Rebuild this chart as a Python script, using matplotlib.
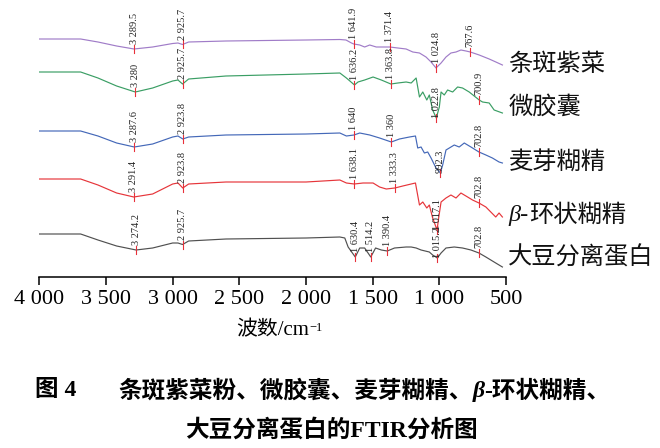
import numpy as np
import matplotlib
matplotlib.use("Agg")
import matplotlib.pyplot as plt

plt.rcParams['font.family'] = ['Liberation Serif', 'Noto Sans CJK SC']

# 透过率 (a.u., 已叠加偏移)
wn_zicai = [4000, 3690, 3560, 3420, 3289.5, 3150, 3000, 2960, 2925.7, 2880, 2600, 2000, 1746, 1700,
            1659, 1641.9, 1597, 1560, 1522, 1473, 1423, 1371.4, 1311, 1249, 1199, 1149, 1100, 1062,
            1024.8, 987, 950, 913, 875, 838, 800, 767.6, 701, 626, 576, 527]
t_zicai = [238, 238, 235, 231, 228, 230, 233.5, 234, 232.5, 235, 236, 237, 237.5, 237,
           234, 233, 232, 230, 232, 230, 230, 230, 229, 228, 225, 224, 220, 215,
           209, 214, 220, 224, 225, 227, 226, 225, 222, 218, 215, 212]

wn_wjn = [4000, 3690, 3560, 3420, 3280, 3150, 3000, 2960, 2925.7, 2880, 2600, 2000, 1746, 1697,
          1636.2, 1610, 1560, 1497, 1435, 1363.8, 1311, 1249, 1211, 1174, 1149, 1124, 1094, 1075,
          1050, 1022.8, 1000, 987, 963, 938, 900, 863, 826, 776, 700.9, 676, 626, 589, 527]
t_wjn = [205, 205, 199, 191, 185, 189, 196, 197, 193, 198, 201, 203, 204, 199,
         192, 195, 197, 200, 197, 193, 194, 195, 194, 199, 180, 185, 177, 182,
         167, 159, 170, 185, 182, 187, 185, 190, 189, 185, 177, 175, 174, 167, 164]

wn_myhj = [4000, 3690, 3560, 3420, 3287.6, 3150, 3000, 2960, 2923.8, 2880, 2600, 2000, 1746, 1697,
           1640, 1597, 1522, 1448, 1360, 1299, 1224, 1179, 1162, 1137, 1112, 1087, 1062, 1025,
           992.3, 975, 950, 925, 888, 851, 813, 763, 702.8, 651, 602, 552, 527]
t_myhj = [146, 146, 141, 134, 130, 133, 140, 141, 138, 140, 142, 143, 144, 141,
          142, 144, 142, 139, 135, 138, 140, 141, 129, 130, 124, 125, 119, 109,
          104, 112, 127, 129, 132, 130, 134, 130, 125, 122, 119, 115, 114]

wn_bhj = [4000, 3690, 3560, 3420, 3291.4, 3150, 3000, 2960, 2923.8, 2880, 2600, 2000, 1746, 1697,
          1638.1, 1572, 1497, 1448, 1398, 1333.3, 1274, 1211, 1179, 1149, 1124, 1094, 1075, 1050,
          1017.1, 1005, 987, 950, 913, 875, 838, 788, 751, 702.8, 651, 614, 577, 552, 527]
t_bhj = [98, 98, 92, 84, 80, 83, 93, 94, 89, 93, 95, 95, 97, 94,
         93, 94, 94, 90, 88, 89, 91, 93, 94, 72, 75, 69, 72, 59,
         47, 59, 75, 79, 82, 79, 84, 80, 77, 74, 70, 65, 60, 64, 60]

wn_dd = [4000, 3690, 3560, 3420, 3274.2, 3150, 3000, 2960, 2925.7, 2880, 2600, 2000, 1746, 1709,
         1684, 1630.4, 1597, 1560, 1514.2, 1478, 1435, 1390.4, 1336, 1249, 1211, 1174, 1137, 1075,
         1050, 1015.2, 987, 950, 888, 826, 763, 702.8, 651, 577, 527]
t_dd = [43, 43, 37, 31, 27, 29, 34, 34, 32.5, 36, 38, 39, 40, 39,
        30, 20, 29, 29, 20, 29, 27, 26, 29, 30, 30, 29, 27, 25,
        22, 19, 24, 29, 30, 29, 27, 24, 20, 14, 10]

# 特征峰
pk_zicai = [3289.5, 2925.7, 1641.9, 1371.4, 1024.8, 767.6]
pk_wjn = [3280, 2925.7, 1636.2, 1363.8, 1022.8, 700.9]
pk_myhj = [3287.6, 2923.8, 1640, 1360, 992.3, 702.8]
pk_bhj = [3291.4, 2923.8, 1638.1, 1333.3, 1017.1, 702.8]
pk_dd = [3274.2, 2925.7, 1630.4, 1514.2, 1390.4, 1015.2, 702.8]

# 名称: (斜体前缀, 正文)
names = [('', '条斑紫菜'), ('', '微胶囊'), ('', '麦芽糊精'), ('β-', '环状糊精'), ('', '大豆分离蛋白')]
colors = ['#a07cc8', '#3a9e64', '#4468b8', '#e6353a', '#505050']
name_dy = [0, 6, 0, 2, 9]   # 名称相对曲线末端的像素偏移

series = [(wn_zicai, t_zicai, pk_zicai), (wn_wjn, t_wjn, pk_wjn), (wn_myhj, t_myhj, pk_myhj),
          (wn_bhj, t_bhj, pk_bhj), (wn_dd, t_dd, pk_dd)]
in_dip = {1022.8, 992.3, 1017.1, 1015.2}


def fmt(v):
    s = ('%.1f' % v).rstrip('0').rstrip('.')
    ip = s.split('.')[0]
    if len(ip) == 4:
        s = ip[0] + ' ' + s[1:]
    return s


fig = plt.figure(figsize=(6.6, 4.48), dpi=100)
ax = fig.add_axes([39.3 / 660, 171 / 448, (506 - 39.3) / 660, 277 / 448])
ax.set_xlim(4000, 500)
ax.set_ylim(0, 277)

px = 0.72  # 1 px in points
for (wn, t, pk), c, (pre, nm), dy in zip(series, colors, names, name_dy):
    wn = np.array(wn)
    t = np.array(t)
    ax.plot(wn, t, color=c, lw=0.85)
    for p in pk:
        yp = np.interp(p, wn[::-1], t[::-1])
        ax.plot([p, p], [yp - 4, yp + 4], color='#e8313a', lw=0.8)
        off = 0 if p in in_dip else 5
        ax.annotate(fmt(p), (p, yp), xytext=(0, off * px), textcoords='offset points',
                    rotation=90, ha='center', va='bottom', fontsize=7.5, color='#222222')
    first = ax.annotate(pre, (wn[-1], t[-1]), xytext=(6 * px, dy * px), textcoords='offset points',
                        ha='left', va='center', fontsize=17.5, style='italic', color='#111111',
                        annotation_clip=False)
    ax.annotate(nm, xy=(1, 0.5), xycoords=first, ha='left', va='center', fontsize=17.5,
                color='#111111', annotation_clip=False)

for s in ['left', 'right', 'top']:
    ax.spines[s].set_visible(False)
ax.spines['bottom'].set_linewidth(1.1)
ax.set_yticks([])
ax.set_xticks([4000, 3500, 3000, 2500, 2000, 1500, 1000, 500])
ax.set_xticklabels(['4 000', '3 500', '3 000', '2 500', '2 000', '1 500', '1 000', '500'])
ax.tick_params(axis='x', direction='out', length=6, width=1.1, labelsize=16, pad=3)
ax.set_xlabel('波数/cm', fontsize=15, labelpad=9)
ax.annotate('−1', xy=(1, 0.95), xycoords=ax.xaxis.label, ha='left', va='top', fontsize=9)

cap_fs = 17
cap_y = 1 - 391 / 448
fig.text(35 / 660, cap_y, '图 4', fontsize=cap_fs, fontweight='bold', va='center', ha='left')
c1 = fig.text(118 / 660, cap_y, '条斑紫菜粉、微胶囊、麦芽糊精、', fontsize=cap_fs, fontweight='bold',
              va='center', ha='left')
c2 = fig.text(0, 0, '')
c2 = plt.annotate('β', xy=(1, 0.5), xycoords=c1, ha='left', va='center', fontsize=cap_fs,
                  fontweight='bold', style='italic')
plt.annotate('-环状糊精、', xy=(1, 0.5), xycoords=c2, ha='left', va='center', fontsize=cap_fs,
             fontweight='bold')
fig.text(331 / 660, 1 - 430 / 448, '大豆分离蛋白的FTIR分析图', fontsize=cap_fs, fontweight='bold',
         va='center', ha='center')

fig.savefig('out.png', dpi=100)
